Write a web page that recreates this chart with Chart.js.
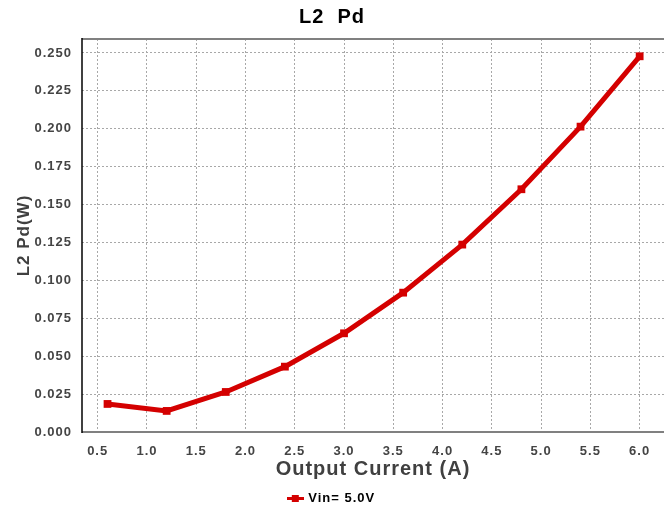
<!DOCTYPE html>
<html>
<head>
<meta charset="utf-8">
<script src="https://cdn.jsdelivr.net/npm/chart.js@4"></script>
<style>
  html, body { margin: 0; padding: 0; background: #fff; }
  #wrap { width: 664px; height: 515px; }
</style>
</head>
<body>
<div id="wrap"><canvas id="chart" width="664" height="515"></canvas></div>
<script>
// data
const currents = [0.6, 1.2, 1.8, 2.4, 3.0, 3.6, 4.2, 4.8, 5.4, 6.0];
const pdVin5 = [0.0185, 0.0139, 0.0264, 0.0431, 0.0651, 0.0919, 0.1236, 0.1601, 0.2014, 0.2478];
const xTicks = [0.5, 1.0, 1.5, 2.0, 2.5, 3.0, 3.5, 4.0, 4.5, 5.0, 5.5, 6.0];
const yTicks = [0, 0.025, 0.05, 0.075, 0.1, 0.125, 0.15, 0.175, 0.2, 0.225, 0.25];

const red = '#d40000';
const fontFamily = '"Liberation Sans", Arial, sans-serif';

// legend symbol: short line with a square in the middle
const legendIcon = document.createElement('canvas');
legendIcon.width = 17;
legendIcon.height = 9;
(function() {
    const c = legendIcon.getContext('2d');
    c.fillStyle = red;
    c.fillRect(0, 3, 17, 3);
    c.fillRect(5, 1, 7, 7);
})();

// the reference text is slightly letter-spaced; set it after the canvas is sized
const spacingPlugin = {
    id: 'spacing',
    beforeUpdate(chart) { chart.ctx.letterSpacing = '1px'; },
    beforeDraw(chart) { chart.ctx.letterSpacing = '1px'; }
};

// frame: grey top border, black left axis, grey bottom axis
const framePlugin = {
    id: 'frame',
    afterDatasetsDraw(chart) {
        const a = chart.chartArea;
        const ctx = chart.ctx;
        ctx.save();
        ctx.strokeStyle = '#808080';
        ctx.lineWidth = 2;
        ctx.beginPath();
        ctx.moveTo(a.left, a.top);
        ctx.lineTo(a.right, a.top);
        ctx.moveTo(a.left, a.bottom);
        ctx.lineTo(a.right, a.bottom);
        ctx.stroke();
        ctx.strokeStyle = '#000';
        ctx.lineWidth = 1.5;
        ctx.beginPath();
        ctx.moveTo(a.left, a.top - 1);
        ctx.lineTo(a.left, a.bottom + 1);
        ctx.stroke();
        ctx.restore();
    }
};

new Chart(document.getElementById('chart'), {
    type: 'line',
    data: {
        datasets: [{
            label: 'Vin= 5.0V',
            data: currents.map((x, i) => ({ x: x, y: pdVin5[i] })),
            borderColor: red,
            backgroundColor: red,
            borderWidth: 5,
            pointStyle: 'rect',
            pointRadius: 5.5,
            pointHoverRadius: 5.5,
            pointBorderWidth: 0,
            tension: 0
        }]
    },
    options: {
        responsive: false,
        animation: false,
        layout: { padding: 0, autoPadding: false },
        plugins: {
            title: {
                display: true,
                text: 'L2  Pd',
                color: '#000',
                font: { family: fontFamily, size: 20, weight: 'bold' },
                padding: { top: 5, bottom: 10 }
            },
            legend: {
                position: 'bottom',
                labels: {
                    color: '#333',
                    font: { family: fontFamily, size: 13, weight: 'bold' },
                    usePointStyle: true,
                    boxHeight: 9,
                    padding: 9,
                    generateLabels(chart) {
                        return chart.data.datasets.map((ds, i) => ({
                            text: ds.label,
                            pointStyle: legendIcon,
                            fillStyle: red,
                            strokeStyle: red,
                            lineWidth: 0,
                            datasetIndex: i
                        }));
                    }
                }
            },
            tooltip: { enabled: false }
        },
        scales: {
            x: {
                type: 'linear',
                min: 0.341,
                max: 6.247,
                afterBuildTicks(s) { s.ticks = xTicks.map(v => ({ value: v })); },
                afterFit(s) {
                    s.height = s.chart.height - s.chart.legend.height - 432;
                    s.paddingLeft = 0;
                    s.paddingRight = 0;
                },
                grid: { color: '#a8a8a8', drawTicks: false },
                border: { display: false, dash: [2, 2] },
                ticks: {
                    color: '#444',
                    font: { family: fontFamily, size: 13, weight: 'bold' },
                    padding: 12,
                    callback: v => Number(v).toFixed(1)
                },
                title: {
                    display: true,
                    text: 'Output Current (A)',
                    color: '#404040',
                    font: { family: fontFamily, size: 20, weight: 'bold' },
                    padding: { top: 2, bottom: 2 }
                }
            },
            y: {
                min: 0,
                max: 0.2592,
                afterBuildTicks(s) { s.ticks = yTicks.map(v => ({ value: v })); },
                afterFit(s) { s.width = 82; },
                grid: { color: '#a8a8a8', drawTicks: false },
                border: { display: false, dash: [2, 2] },
                ticks: {
                    color: '#444',
                    font: { family: fontFamily, size: 13, weight: 'bold' },
                    padding: 10,
                    callback: v => Number(v).toFixed(3)
                },
                title: {
                    display: true,
                    text: 'L2 Pd(W)',
                    color: '#404040',
                    font: { family: fontFamily, size: 17, weight: 'bold' },
                    padding: { top: 14, bottom: 14 }
                }
            }
        }
    },
    plugins: [spacingPlugin, framePlugin]
});
</script>
</body>
</html>
